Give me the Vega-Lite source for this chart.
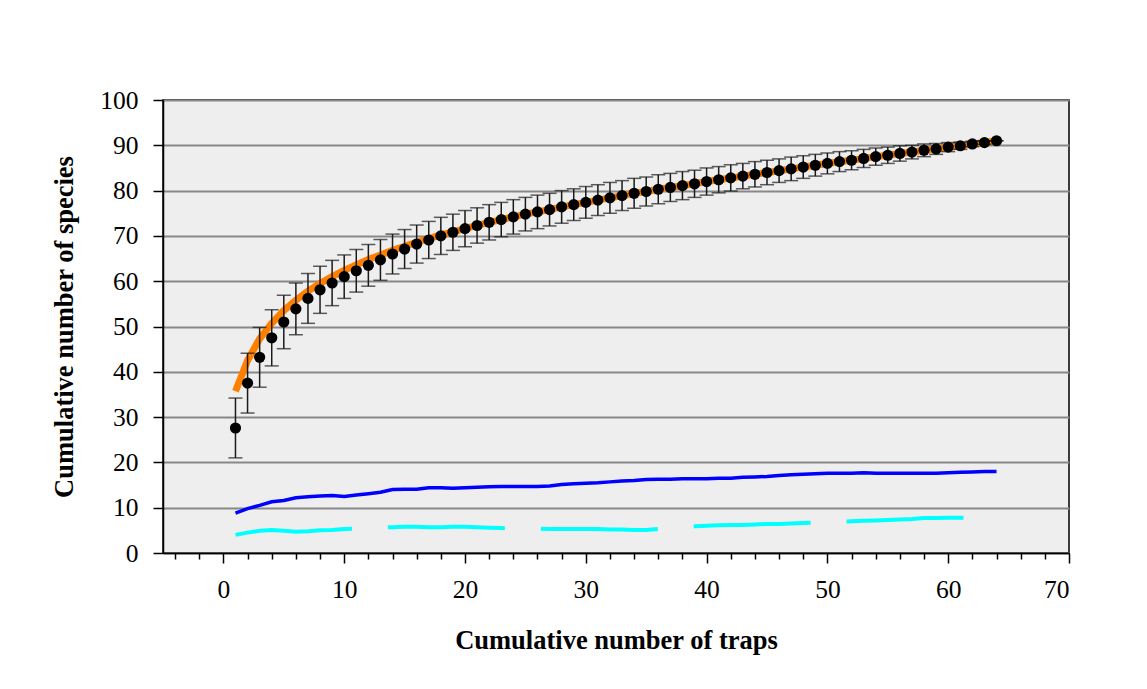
{
  "$schema": "https://vega.github.io/schema/vega-lite/v6.json",
  "width": 906,
  "height": 453,
  "autosize": {"type": "none"},
  "padding": {"left": 163, "top": 100, "right": 78, "bottom": 136},
  "background": "white",
  "config": {
    "font": "Liberation Serif",
    "view": {"fill": "#eeeeee", "stroke": "black", "strokeWidth": 1.5},
    "axis": {
      "labelFont": "Liberation Serif",
      "labelFontSize": 25.5,
      "labelColor": "black",
      "titleFont": "Liberation Serif",
      "titleFontSize": 26.5,
      "titleFontWeight": "bold",
      "titleColor": "black",
      "domainColor": "black",
      "domainWidth": 1.5,
      "tickColor": "black",
      "tickWidth": 1.5
    }
  },
  "data": {"values": [
    {"x":1,"mean":27.6,"lo":21.0,"hi":34.2,"fit":35.7,"blue":8.8,"cyan":4.0},
    {"x":2,"mean":37.5,"lo":30.9,"hi":44.1,"fit":42.5,"blue":9.8,"cyan":4.5},
    {"x":3,"mean":43.2,"lo":36.6,"hi":49.8,"fit":47.3,"blue":10.5,"cyan":4.9},
    {"x":4,"mean":47.5,"lo":41.3,"hi":53.7,"fit":50.7,"blue":11.3,"cyan":5.1},
    {"x":5,"mean":51.0,"lo":45.1,"hi":56.9,"fit":53.5,"blue":11.6,"cyan":4.9},
    {"x":6,"mean":53.9,"lo":48.2,"hi":59.6,"fit":55.8,"blue":12.2,"cyan":4.7},
    {"x":7,"mean":56.2,"lo":50.7,"hi":61.7,"fit":57.8,"blue":12.4,"cyan":4.8},
    {"x":8,"mean":58.1,"lo":52.9,"hi":63.3,"fit":59.5,"blue":12.6,"cyan":5.0},
    {"x":9,"mean":59.6,"lo":54.6,"hi":64.6,"fit":61.0,"blue":12.7,"cyan":5.1},
    {"x":10,"mean":61.0,"lo":56.2,"hi":65.8,"fit":62.4,"blue":12.5,"cyan":5.3},
    {"x":11,"mean":62.3,"lo":57.6,"hi":67.0,"fit":63.6,"blue":12.8,"cyan":5.4},
    {"x":12,"mean":63.5,"lo":58.9,"hi":68.1,"fit":64.8,"blue":13.1,"cyan":5.5},
    {"x":13,"mean":64.7,"lo":60.2,"hi":69.2,"fit":65.8,"blue":13.4,"cyan":5.6},
    {"x":14,"mean":66.0,"lo":61.6,"hi":70.4,"fit":66.8,"blue":14.0,"cyan":5.7},
    {"x":15,"mean":67.1,"lo":62.8,"hi":71.4,"fit":67.7,"blue":14.1,"cyan":5.8},
    {"x":16,"mean":68.2,"lo":64.0,"hi":72.4,"fit":68.6,"blue":14.1,"cyan":5.8},
    {"x":17,"mean":69.1,"lo":65.0,"hi":73.2,"fit":69.4,"blue":14.4,"cyan":5.7},
    {"x":18,"mean":70.0,"lo":65.9,"hi":74.1,"fit":70.2,"blue":14.4,"cyan":5.7},
    {"x":19,"mean":70.8,"lo":66.8,"hi":74.8,"fit":70.9,"blue":14.3,"cyan":5.8},
    {"x":20,"mean":71.6,"lo":67.6,"hi":75.6,"fit":71.6,"blue":14.4,"cyan":5.8},
    {"x":21,"mean":72.3,"lo":68.4,"hi":76.2,"fit":72.3,"blue":14.5,"cyan":5.7},
    {"x":22,"mean":73.0,"lo":69.1,"hi":76.9,"fit":73.0,"blue":14.6,"cyan":5.6},
    {"x":23,"mean":73.6,"lo":69.8,"hi":77.4,"fit":73.6,"blue":14.7,"cyan":5.5},
    {"x":24,"mean":74.2,"lo":70.4,"hi":78.0,"fit":74.2,"blue":14.7,"cyan":5.4},
    {"x":25,"mean":74.8,"lo":71.1,"hi":78.5,"fit":74.8,"blue":14.7,"cyan":5.4},
    {"x":26,"mean":75.3,"lo":71.6,"hi":79.0,"fit":75.3,"blue":14.7,"cyan":5.4},
    {"x":27,"mean":75.8,"lo":72.2,"hi":79.4,"fit":75.8,"blue":14.8,"cyan":5.3},
    {"x":28,"mean":76.4,"lo":72.8,"hi":80.0,"fit":76.4,"blue":15.1,"cyan":5.3},
    {"x":29,"mean":76.9,"lo":73.4,"hi":80.4,"fit":76.9,"blue":15.3,"cyan":5.3},
    {"x":30,"mean":77.4,"lo":73.9,"hi":80.9,"fit":77.4,"blue":15.4,"cyan":5.3},
    {"x":31,"mean":77.9,"lo":74.5,"hi":81.3,"fit":77.9,"blue":15.5,"cyan":5.3},
    {"x":32,"mean":78.4,"lo":75.0,"hi":81.8,"fit":78.4,"blue":15.7,"cyan":5.2},
    {"x":33,"mean":78.9,"lo":75.6,"hi":82.2,"fit":78.9,"blue":15.9,"cyan":5.2},
    {"x":34,"mean":79.4,"lo":76.1,"hi":82.7,"fit":79.4,"blue":16.0,"cyan":5.1},
    {"x":35,"mean":79.8,"lo":76.6,"hi":83.0,"fit":79.8,"blue":16.2,"cyan":5.1},
    {"x":36,"mean":80.3,"lo":77.1,"hi":83.5,"fit":80.3,"blue":16.3,"cyan":5.3},
    {"x":37,"mean":80.7,"lo":77.6,"hi":83.8,"fit":80.7,"blue":16.3,"cyan":5.6},
    {"x":38,"mean":81.1,"lo":78.0,"hi":84.2,"fit":81.1,"blue":16.4,"cyan":5.8},
    {"x":39,"mean":81.5,"lo":78.5,"hi":84.5,"fit":81.5,"blue":16.4,"cyan":5.9},
    {"x":40,"mean":82.0,"lo":79.0,"hi":85.0,"fit":82.0,"blue":16.4,"cyan":6.0},
    {"x":41,"mean":82.4,"lo":79.5,"hi":85.3,"fit":82.4,"blue":16.5,"cyan":6.1},
    {"x":42,"mean":82.8,"lo":79.9,"hi":85.7,"fit":82.8,"blue":16.5,"cyan":6.2},
    {"x":43,"mean":83.2,"lo":80.4,"hi":86.0,"fit":83.2,"blue":16.7,"cyan":6.2},
    {"x":44,"mean":83.6,"lo":80.8,"hi":86.4,"fit":83.6,"blue":16.8,"cyan":6.3},
    {"x":45,"mean":84.0,"lo":81.3,"hi":86.7,"fit":84.0,"blue":16.9,"cyan":6.4},
    {"x":46,"mean":84.4,"lo":81.8,"hi":87.0,"fit":84.4,"blue":17.1,"cyan":6.4},
    {"x":47,"mean":84.8,"lo":82.2,"hi":87.4,"fit":84.8,"blue":17.3,"cyan":6.5},
    {"x":48,"mean":85.2,"lo":82.7,"hi":87.7,"fit":85.2,"blue":17.4,"cyan":6.6},
    {"x":49,"mean":85.6,"lo":83.2,"hi":88.0,"fit":85.6,"blue":17.5,"cyan":6.7},
    {"x":50,"mean":86.0,"lo":83.7,"hi":88.3,"fit":86.0,"blue":17.6,"cyan":6.8},
    {"x":51,"mean":86.4,"lo":84.2,"hi":88.6,"fit":86.4,"blue":17.6,"cyan":6.9},
    {"x":52,"mean":86.7,"lo":84.6,"hi":88.8,"fit":86.7,"blue":17.6,"cyan":7.0},
    {"x":53,"mean":87.1,"lo":85.1,"hi":89.1,"fit":87.1,"blue":17.7,"cyan":7.1},
    {"x":54,"mean":87.5,"lo":85.6,"hi":89.4,"fit":87.5,"blue":17.6,"cyan":7.2},
    {"x":55,"mean":87.8,"lo":86.0,"hi":89.6,"fit":87.8,"blue":17.6,"cyan":7.3},
    {"x":56,"mean":88.2,"lo":86.5,"hi":89.9,"fit":88.2,"blue":17.6,"cyan":7.4},
    {"x":57,"mean":88.5,"lo":87.0,"hi":90.0,"fit":88.5,"blue":17.6,"cyan":7.5},
    {"x":58,"mean":88.9,"lo":87.5,"hi":90.3,"fit":88.9,"blue":17.6,"cyan":7.7},
    {"x":59,"mean":89.2,"lo":88.0,"hi":90.4,"fit":89.2,"blue":17.6,"cyan":7.7},
    {"x":60,"mean":89.6,"lo":88.6,"hi":90.6,"fit":89.6,"blue":17.7,"cyan":7.8},
    {"x":61,"mean":89.9,"lo":89.1,"hi":90.7,"fit":89.9,"blue":17.8,"cyan":7.8},
    {"x":62,"mean":90.3,"lo":89.7,"hi":90.9,"fit":90.3,"blue":17.9,"cyan":7.8},
    {"x":63,"mean":90.6,"lo":90.2,"hi":91.0,"fit":90.6,"blue":18.0,"cyan":7.9},
    {"x":64,"mean":91.0,"lo":91.0,"hi":91.0,"fit":91.0,"blue":18.0,"cyan":7.9}
  ]},
  "encoding": {
    "x": {
      "field": "x",
      "type": "quantitative",
      "scale": {"domain": [-5, 70], "nice": false, "zero": false},
      "axis": {
        "title": "Cumulative number of traps",
        "values": [-4,-2,0,2,4,6,8,10,12,14,16,18,20,22,24,26,28,30,32,34,36,38,40,42,44,46,48,50,52,54,56,58,60,62,64,66,68,70],
        "labelExpr": "datum.value % 10 === 0 ? datum.label : ''",
        "tickSize": {"condition": {"test": "datum.value % 10 === 0", "value": 10}, "value": 6},
        "labelPadding": 14,
        "titlePadding": 25,
        "grid": false
      }
    }
  },
  "layer": [
    {
      "mark": {"type": "line", "color": "#ff8000", "strokeWidth": 7},
      "encoding": {
        "y": {
          "field": "fit",
          "type": "quantitative",
          "scale": {"domain": [0, 100], "nice": false},
          "axis": {
            "title": "Cumulative number of species",
            "values": [0,10,20,30,40,50,60,70,80,90,100],
            "grid": true,
            "gridColor": "#888888",
            "gridWidth": 2,
            "tickSize": 10,
            "labelPadding": 15,
            "titlePadding": 21
          }
        }
      }
    },
    {
      "mark": {"type": "rule", "color": "#1a1a1a", "strokeWidth": 1.5},
      "encoding": {
        "y": {"field": "lo", "type": "quantitative"},
        "y2": {"field": "hi"}
      }
    },
    {
      "mark": {"type": "tick", "orient": "horizontal", "color": "#1a1a1a", "size": 14, "thickness": 1.5},
      "encoding": {"y": {"field": "lo", "type": "quantitative"}}
    },
    {
      "mark": {"type": "tick", "orient": "horizontal", "color": "#1a1a1a", "size": 14, "thickness": 1.5},
      "encoding": {"y": {"field": "hi", "type": "quantitative"}}
    },
    {
      "mark": {"type": "point", "filled": true, "color": "black", "opacity": 1, "size": 125},
      "encoding": {"y": {"field": "mean", "type": "quantitative"}}
    },
    {
      "mark": {"type": "line", "color": "#0000ff", "strokeWidth": 3.5},
      "encoding": {"y": {"field": "blue", "type": "quantitative"}}
    },
    {
      "mark": {"type": "line", "color": "#00ffff", "strokeWidth": 4, "strokeDash": [117, 36]},
      "encoding": {"y": {"field": "cyan", "type": "quantitative"}}
    }
  ]
}
